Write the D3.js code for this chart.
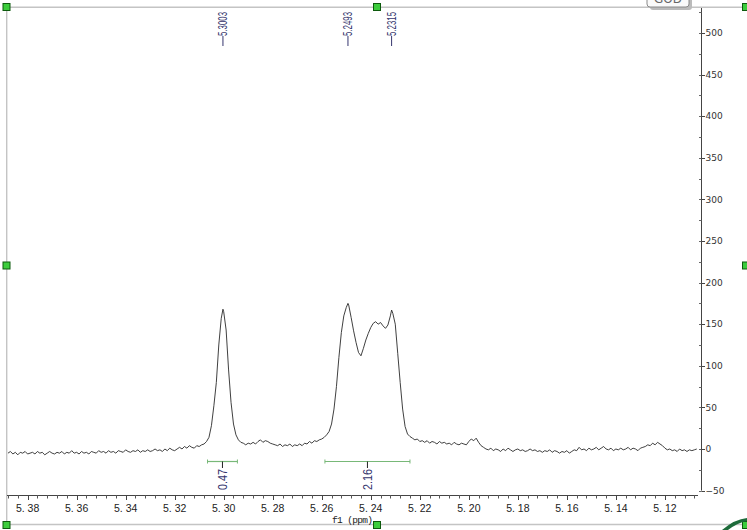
<!DOCTYPE html>
<html><head><meta charset="utf-8">
<script src="https://cdn.jsdelivr.net/npm/d3@7/dist/d3.min.js"></script>
<style>html,body{margin:0;padding:0;background:#fff;overflow:hidden}svg{display:block}</style>
</head><body>
<svg id="chart" width="747" height="530"></svg>
<script>
// ---- data ----
const ppm = [
 5.388,5.387,5.386,5.385,5.384,5.383,5.382,5.381,5.380,5.379,
 5.378,5.377,5.376,5.375,5.374,5.373,5.372,5.371,5.370,5.369,
 5.368,5.367,5.366,5.365,5.364,5.363,5.362,5.361,5.360,5.359,
 5.358,5.357,5.356,5.355,5.354,5.353,5.352,5.351,5.350,5.349,
 5.348,5.347,5.346,5.345,5.344,5.343,5.342,5.341,5.340,5.339,
 5.338,5.337,5.336,5.335,5.334,5.333,5.332,5.331,5.330,5.329,
 5.328,5.327,5.326,5.325,5.324,5.323,5.322,5.321,5.320,5.319,
 5.318,5.317,5.316,5.315,5.314,5.313,5.312,5.311,5.310,5.309,
 5.308,5.307,5.306,5.305,5.304,5.303,5.302,5.301,5.3003,5.300,5.299,
 5.298,5.297,5.296,5.295,5.294,5.293,5.292,5.291,5.290,5.289,
 5.288,5.287,5.286,5.285,5.284,5.283,5.282,5.281,5.280,5.279,
 5.278,5.277,5.276,5.275,5.274,5.273,5.272,5.271,5.270,5.269,
 5.268,5.267,5.266,5.265,5.264,5.263,5.262,5.261,5.260,5.259,
 5.258,5.257,5.256,5.255,5.254,5.253,5.252,5.251,5.250,5.2493,5.249,
 5.248,5.247,5.246,5.245,5.244,5.243,5.242,5.241,5.240,5.239,
 5.238,5.237,5.236,5.235,5.234,5.233,5.232,5.2315,5.231,5.230,5.229,
 5.228,5.227,5.226,5.225,5.224,5.223,5.222,5.221,5.220,5.219,
 5.218,5.217,5.216,5.215,5.214,5.213,5.212,5.211,5.210,5.209,
 5.208,5.207,5.206,5.205,5.204,5.203,5.202,5.201,5.200,5.199,
 5.198,5.197,5.196,5.195,5.194,5.193,5.192,5.191,5.190,5.189,
 5.188,5.187,5.186,5.185,5.184,5.183,5.182,5.181,5.180,5.179,
 5.178,5.177,5.176,5.175,5.174,5.173,5.172,5.171,5.170,5.169,
 5.168,5.167,5.166,5.165,5.164,5.163,5.162,5.161,5.160,5.159,
 5.158,5.157,5.156,5.155,5.154,5.153,5.152,5.151,5.150,5.149,
 5.148,5.147,5.146,5.145,5.144,5.143,5.142,5.141,5.140,5.139,
 5.138,5.137,5.136,5.135,5.134,5.133,5.132,5.131,5.130,5.129,
 5.128,5.127,5.126,5.125,5.124,5.123,5.122,5.121,5.120,5.119,
 5.118,5.117,5.116,5.115,5.114,5.113,5.112,5.111,5.110,5.109,
 5.108,5.107
];
const intensity = [
 -5,-3,-6,-4,-7,-4,-5,-3,-6,-5,
 -4,-6,-3,-5,-4,-7,-5,-3,-5,-6,
 -4,-5,-3,-6,-4,-5,-2,-5,-4,-6,
 -3,-5,-4,-6,-3,-4,-5,-2,-4,-3,
 -5,-2,-4,-3,-5,-2,-3,-4,-1,-3,
 -4,-2,-3,-1,-4,-2,-3,-1,-3,-2,
 0,-2,-1,-3,0,-2,1,-1,-2,0,
 2,0,3,1,4,2,1,4,3,5,
 6,9,14,28,52,80,125,157,168,165,143,
 95,56,30,17,11,8,7,5,7,6,
 8,6,9,11,8,10,9,7,6,5,
 4,6,3,5,4,6,3,5,4,6,
 4,7,6,9,7,10,9,11,12,14,
 17,21,30,48,75,110,140,160,170,175,173,
 158,142,128,116,112,121,131,139,146,151,
 153,150,152,148,145,149,160,167,163,150,115,
 80,48,27,18,15,13,11,12,9,10,
 8,10,7,9,8,6,9,7,8,6,
 7,5,8,6,5,7,6,5,9,12,
 10,13,8,4,2,0,-1,1,-2,0,
 -1,-3,0,-2,1,-1,-3,-1,0,-2,
 -1,-3,-2,0,-2,-1,-3,-2,-4,-2,
 -3,-1,-4,-2,-3,-5,-3,-4,-2,-5,
 -3,-1,-2,2,-1,0,-2,1,-1,0,
 2,-1,1,3,0,-1,1,-2,0,-1,
 1,-1,0,2,-1,1,0,-2,1,2,
 3,5,4,7,5,8,6,4,1,-1,
 0,-2,-1,-3,0,-2,-1,-3,-1,-2,
 -1,0
];
const peakLabels = [5.3003, 5.2493, 5.2315];
const integralFrom = [5.3066, 5.2587];
const integralTo = [5.2944, 5.2240];
const integralValues = ["0.47", "2.16"];
const xTicks = [5.38,5.36,5.34,5.32,5.30,5.28,5.26,5.24,5.22,5.20,5.18,5.16,5.14,5.12];
const xTickLabels = ["5. 38","5. 36","5. 34","5. 32","5. 30","5. 28","5. 26","5. 24","5. 22","5. 20","5. 18","5. 16","5. 14","5. 12"];
const yTicks = [-50,0,50,100,150,200,250,300,350,400,450,500];
const xLabel = "f1 (ppm)";

// ---- drawing ----
const svg = d3.select("#chart");
const x = d3.scaleLinear().domain([5.3884, 5.1065]).range([7, 698]);
const y = d3.scaleLinear().domain([-50, 530]).range([490.6, 8]);
const navy = "#35356e";

// frame
const frame = svg.append("g").attr("stroke", "#c4c4c4").attr("stroke-width", 1.4).attr("fill", "none");
frame.append("line").attr("x1", 6.5).attr("x2", 745).attr("y1", 7.3).attr("y2", 7.3);
frame.append("line").attr("x1", 6.7).attr("x2", 6.7).attr("y1", 7).attr("y2", 524.5);
frame.append("line").attr("x1", 6.5).attr("x2", 745).attr("y1", 524.5).attr("y2", 524.5);

// GOD box
svg.append("rect").attr("x", 650).attr("y", -10).attr("width", 42).attr("height", 20).attr("rx", 3).attr("fill", "#bbb");
svg.append("rect").attr("x", 647).attr("y", -12).attr("width", 42).attr("height", 19).attr("rx", 3).attr("fill", "#fafafa").attr("stroke", "#8a8a8a");
svg.append("text").attr("x", 668).attr("y", 3).attr("text-anchor", "middle").attr("font-family", "DejaVu Sans, sans-serif").attr("font-size", 12).attr("fill", "#666").text("GOD");

// bottom axis
const xMinor = d3.range(0, 71).map(i => +(5.388 - i * 0.004).toFixed(3)).filter(v => v <= 5.3884 && v >= 5.1065);
const bx = svg.append("g");
bx.append("line").attr("x1", 7).attr("x2", 698).attr("y1", 495.5).attr("y2", 495.5).attr("stroke", "#444");
bx.selectAll("line.mn").data(xMinor).join("line").attr("class", "mn")
  .attr("x1", d => Math.round(x(d)) + 0.5).attr("x2", d => Math.round(x(d)) + 0.5)
  .attr("y1", 495).attr("y2", 498.5).attr("stroke", "#555");
bx.selectAll("line.mj").data(xTicks).join("line").attr("class", "mj")
  .attr("x1", d => Math.round(x(d)) + 0.5).attr("x2", d => Math.round(x(d)) + 0.5)
  .attr("y1", 495).attr("y2", 500).attr("stroke", "#444");
bx.selectAll("text").data(xTicks).join("text")
  .attr("x", d => x(d)).attr("y", 512).attr("text-anchor", "middle")
  .attr("font-family", "Liberation Sans, Arial, sans-serif").attr("font-size", 10.5).attr("fill", "#222")
  .text((d, i) => xTickLabels[i]);
svg.append("text").attr("x", 332).attr("y", 523).attr("font-family", "Liberation Mono, monospace")
  .attr("font-size", 9.5).attr("fill", "#222").attr("textLength", 41).text(xLabel);

// right axis
const yMinor = d3.range(-50, 530, 25);
const ax = svg.append("g");
ax.append("line").attr("x1", 701.5).attr("x2", 701.5).attr("y1", 8).attr("y2", y(-50)).attr("stroke", "#444");
ax.selectAll("line.mn").data(yMinor).join("line").attr("class", "mn")
  .attr("x1", 699).attr("x2", 701.5).attr("y1", d => Math.round(y(d)) + 0.5).attr("y2", d => Math.round(y(d)) + 0.5).attr("stroke", "#666");
ax.selectAll("line.mj").data(yTicks).join("line").attr("class", "mj")
  .attr("x1", 701.5).attr("x2", 705).attr("y1", d => Math.round(y(d)) + 0.5).attr("y2", d => Math.round(y(d)) + 0.5).attr("stroke", "#444");
ax.selectAll("text").data(yTicks).join("text")
  .attr("x", 705.5).attr("y", d => y(d)).attr("dy", "0.35em")
  .attr("font-family", "DejaVu Sans, Verdana, sans-serif").attr("font-size", 9).attr("fill", "#333")
  .text(d => d < 0 ? "\u2212" + Math.abs(d) : d);

// spectrum
const pts = ppm.map((p, i) => [p, intensity[i]]);
svg.append("path").datum(pts)
  .attr("d", d3.line().x(d => x(d[0])).y(d => y(d[1])))
  .attr("fill", "none").attr("stroke", "#2a2a2a").attr("stroke-width", 0.9).attr("stroke-linejoin", "round");

// peak labels
const pl = svg.append("g");
peakLabels.forEach(p => {
  const px = x(p);
  pl.append("line").attr("x1", px).attr("x2", px).attr("y1", 46).attr("y2", 36).attr("stroke", navy).attr("stroke-width", 1);
  pl.append("text").attr("transform", `translate(${px},36) rotate(-90)`).attr("dy", "0.36em")
    .attr("font-family", "Liberation Sans, Arial, sans-serif").attr("font-size", 12)
    .attr("textLength", 24).attr("lengthAdjust", "spacingAndGlyphs").attr("fill", navy)
    .text(p.toFixed(4));
});

// integrals
const ig = svg.append("g");
integralValues.forEach((v, i) => {
  const x1 = x(integralFrom[i]), x2 = x(integralTo[i]), xm = (x1 + x2) / 2;
  ig.append("line").attr("x1", x1).attr("x2", x2).attr("y1", 461.5).attr("y2", 461.5).attr("stroke", "#78b878").attr("stroke-width", 1.2);
  ig.append("line").attr("x1", x1).attr("x2", x1).attr("y1", 459.5).attr("y2", 463.5).attr("stroke", "#78b878");
  ig.append("line").attr("x1", x2).attr("x2", x2).attr("y1", 459.5).attr("y2", 463.5).attr("stroke", "#78b878");
  ig.append("line").attr("x1", xm).attr("x2", xm).attr("y1", 461.5).attr("y2", 468).attr("stroke", "#222");
  ig.append("text").attr("transform", `translate(${xm},490) rotate(-90)`).attr("dy", "0.36em")
    .attr("font-family", "Liberation Sans, Arial, sans-serif").attr("font-size", 12.5)
    .attr("textLength", 21).attr("lengthAdjust", "spacingAndGlyphs").attr("fill", navy).text(v);
});

// selection handles
const handles = [[6.5,7],[377,7],[746,7],[6.5,265.5],[746,265.5],[6.5,525],[377,525],[746,525]];
svg.append("g").selectAll("rect").data(handles).join("rect")
  .attr("x", d => d[0] - 3.5).attr("y", d => d[1] - 3.5).attr("width", 7).attr("height", 7)
  .attr("fill", "#3ccc3c").attr("stroke", "#0d5a0d").attr("stroke-width", 1);
// corner logo fragment
svg.append("path").attr("d", "M722,530 Q735,519 747,518 L747,521 Q737,523 728,530 Z").attr("fill", "#1d6b3a");
</script>
</body></html>
